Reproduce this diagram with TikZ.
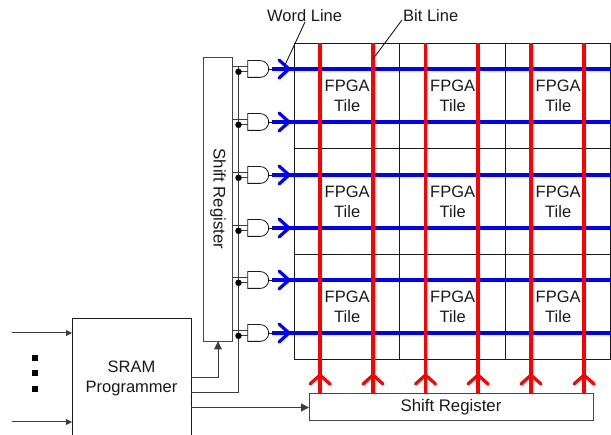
\documentclass[tikz,border=0pt]{standalone}
\usepackage{fontspec}
\setmainfont{Liberation Sans}
\usetikzlibrary{arrows.meta,shapes.gates.logic.US,calc}
\definecolor{wireblue}{RGB}{0,0,255}
\definecolor{wirered}{RGB}{255,0,0}
\definecolor{ink}{RGB}{25,25,25}
\tikzset{
  tilebox/.style={draw=ink,line width=1pt,minimum width=105.5pt,minimum height=105.5pt,inner sep=0pt,outer sep=0pt,font=\fontsize{16.5}{20}\selectfont,align=center,text=ink},
  srbox/.style={draw=ink!80,line width=1pt,inner sep=0pt,outer sep=0pt,font=\fontsize{16.8}{20}\selectfont,text=ink},
  andg/.style={and gate US,draw=ink,line width=.8pt,logic gate inputs=nn,minimum width=19pt,minimum height=15pt,inner sep=0pt,outer sep=0pt,anchor=center},
  wire/.style={draw=ink!85,line width=1pt},
  inarrow/.style={wire,-{Triangle[length=6pt,width=6pt]}},
  bigarrow/.style={wire,-{Triangle[length=8pt,width=8pt]}},
  blueline/.style={draw=wireblue,line width=3.2pt},
  redline/.style={draw=wirered,line width=3.2pt},
  leader/.style={draw=ink,line width=.9pt},
  lbl/.style={font=\fontsize{16.5}{20}\selectfont,text=ink,inner sep=0pt},
  dotn/.style={circle,fill=black,inner sep=0pt,minimum size=6.5pt},
  sq/.style={rectangle,fill=black,inner sep=0pt,minimum size=6pt}
}
\begin{document}
\begin{tikzpicture}[x=1pt,y=-1pt]
\useasboundingbox (0,0) rectangle (611,435);
% tiles
\foreach \c/\x in {1/347.2,2/452.7,3/558.2}
  \foreach \r/\y in {1/96,2/201.5,3/306.8}
    \node[tilebox] (t\r\c) at (\x,\y) {FPGA\\Tile};
% shift registers
\node[srbox,minimum width=29pt,minimum height=284pt] (srl) at (217.5,199.3) {};
\node[font=\fontsize{16.8}{20}\selectfont,text=ink,rotate=-90,inner sep=0pt] (srltext) at (218,199) {Shift Register};
\node[srbox,minimum width=284pt,minimum height=27pt] (srb) at (451,407.5) {Shift Register};
\node[draw=ink,line width=1pt,fill=white,minimum width=119pt,minimum height=120pt,inner sep=0pt,outer sep=0pt,font=\fontsize{16.5}{20}\selectfont,align=center,text=ink] (sram) at (131.5,378.5) {SRAM\\Programmer};
% left input arrows
\coordinate (ia) at (12,333);
\coordinate (ib) at (12,422);
\draw[inarrow] (ia) -- (ia -| sram.west);
\draw[inarrow] (ib) -- (ib -| sram.west);
\node[sq] (d1) at (35,358) {};
\node[sq] (d2) at (35,373) {};
\node[sq] (d3) at (35,389) {};
% programming bus
\coordinate (bustop) at (238.5,66);
\coordinate (busbot) at (238.5,392.5);
\coordinate (so1) at (191,378);
\coordinate (so2) at (191,392.5);
\coordinate (so3) at (191,407.5);
\draw[wire] (so2) -- (busbot) -- (bustop);
\draw[wire] (so1) -- (218,378) -- (218,341);
\draw[bigarrow] (218,378) -- (218,341.5);
\draw[bigarrow] (so3) -- (so3 -| srb.west);
% word lines
\foreach \i/\y in {1/69,2/122,3/175,4/228,5/280,6/333}{
  \node[andg] (g\i) at (257.5,\y) {};
  \coordinate (wl\i) at (272,\y);
  \coordinate (wr\i) at (611,\y);
  \coordinate (wt\i) at (289,\y);
  \coordinate (wa\i) at (279,\y-9);
  \coordinate (wb\i) at (279,\y+9);
  \draw[wire] (g\i.input 1 -| srl.east) -- (g\i.input 1);
  \draw[wire] (g\i.input 2 -| bustop) -- (g\i.input 2);
  \node[dotn] (j\i) at (g\i.input 2 -| bustop) {};
  \draw[draw=ink,line width=.8pt] (g\i.output) -- (wl\i);
  \draw[blueline] (wl\i) -- (wr\i);
  \draw[blueline,line cap=round,line join=miter] (wa\i) -- (wt\i) -- (wb\i);
}
% bit lines
\foreach \i/\x in {1/320,2/373,3/425.5,4/478,5/531,6/584}{
  \coordinate (bt\i) at (\x,43);
  \coordinate (bb\i) at (\x,394);
  \coordinate (bh\i) at (\x,375);
  \coordinate (ba\i) at (\x-10,384);
  \coordinate (bc\i) at (\x+10,384);
  \draw[redline] (bt\i) -- (bb\i);
  \draw[redline,line cap=round] (ba\i) -- (bh\i) -- (bc\i);
}
% labels
\node[lbl,anchor=west] (wlabel) at (267,16) {Word Line};
\node[lbl,anchor=west] (blabel) at (403,16) {Bit Line};
\coordinate (wtip) at (285,65);
\coordinate (btip) at (373,59);
\draw[leader] (305,22) -- (wtip);
\draw[leader] (402,20) -- (btip);
\end{tikzpicture}
\end{document}
